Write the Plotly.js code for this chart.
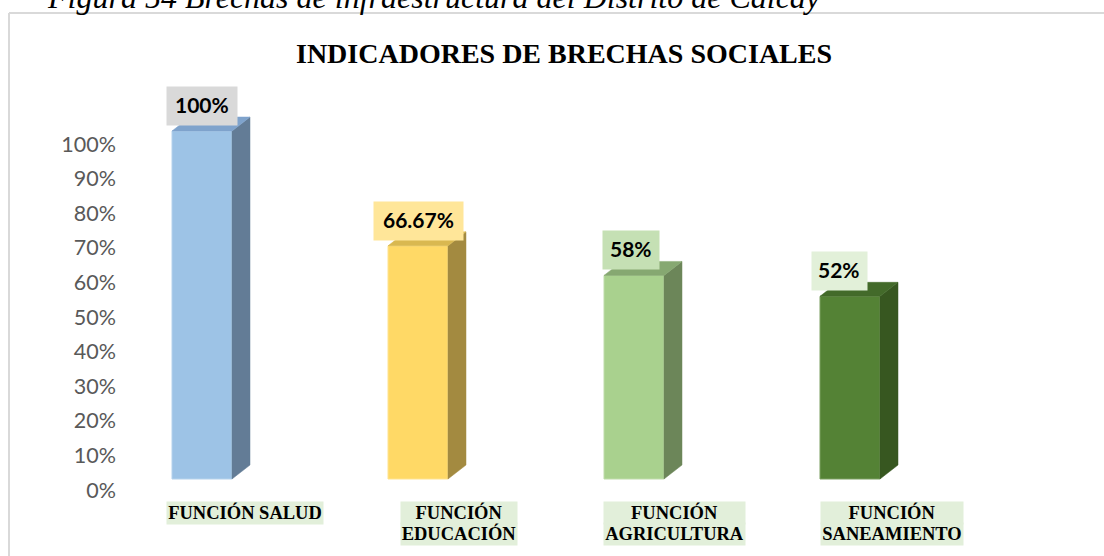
<!DOCTYPE html>
<html><head><meta charset="utf-8">
<script src="https://cdn.plot.ly/plotly-3.0.1.min.js"></script>
<style>html,body{margin:0;padding:0;background:#fff;overflow:hidden}#c{width:1104px;height:556px}</style>
</head><body><div id="c"></div>
<script>
const categories = ['FUNCIÓN SALUD','FUNCIÓN<br>EDUCACIÓN','FUNCIÓN<br>AGRICULTURA','FUNCIÓN<br>SANEAMIENTO'];
const values = [100, 66.67, 58, 52];
const barHeights = [100, 67, 58.5, 52.5];
const valueLabels = ['100%','66.67%','58%','52%'];
const tickValues = [0,10,20,30,40,50,60,70,80,90,100];
const tickLabels = tickValues.map(v => v + '%');

const frontColors = ['#9dc3e6','#ffd966','#a9d18e','#548235'];
const edgeColors  = ['#b5d2ec','#ffe38f','#bfdcaa','#7a9f60'];
const sideColors  = ['#637c96','#a38a40','#6c8659','#375720'];
const topColors   = ['#7fa3cc','#d9b850','#86a871','#436a2a'];
const labelColors = ['#d9d9d9','#ffe699','#c5e0b4','#e2f0d9'];
const labelWidths = [70,89,56,55];
const labelShift  = [0,0,-3,-11];
const catShift    = [43,41,40,42];
const catWidths   = [156,116,141,142];

const W=1104,H=556,L=120,R=1040,T=100,B=500;
const pxX=216, pxY=3.48, depthX=18/pxX, depthY=14/pxY, halfW=30/pxX;
const x0=202, y0=479, tick0=490, tickPx=3.46;
const xr=[(L-x0)/pxX,(R-x0)/pxX];
const yr=[-(B-tick0)/tickPx,(tick0-T)/tickPx];
const y2r=[-(B-y0)/pxY,(y0-T)/pxY];
const px=v=>(v-L)/(R-L), py=v=>(B-v)/(B-T);

const traces=[{
  type:'scatter',mode:'none',x:tickValues.map(()=>0),y:tickValues,yaxis:'y',hoverinfo:'skip',showlegend:false
},{
  type:'bar', x:[0,1,2,3], y:barHeights, width:2*halfW, yaxis:'y2',
  marker:{color:frontColors,line:{color:edgeColors,width:1}}, hoverinfo:'skip', showlegend:false
}];
barHeights.forEach((v,i)=>{
  const a=i+halfW,b=a+depthX,l=i-halfW;
  traces.push({type:'scatter',mode:'lines',yaxis:'y2',fill:'toself',fillcolor:sideColors[i],
    x:[a,b,b,a,a],y:[0,depthY,v+depthY,v,0],line:{width:0.5,color:sideColors[i]},hoverinfo:'skip',showlegend:false});
  traces.push({type:'scatter',mode:'lines',yaxis:'y2',fill:'toself',fillcolor:topColors[i],
    x:[l,l+depthX,b,a,l],y:[v,v+depthY,v+depthY,v,v],line:{width:0.5,color:topColors[i]},hoverinfo:'skip',showlegend:false});
});

const annotations=[{
  xref:'paper',yref:'paper',x:px(564),y:py(53),xanchor:'center',yanchor:'middle',showarrow:false,
  text:'<b>INDICADORES DE BRECHAS SOCIALES</b>',font:{family:'Liberation Serif',size:28,color:'#000'}
},{
  xref:'paper',yref:'paper',x:px(45),y:py(-3),xanchor:'left',yanchor:'middle',showarrow:false,
  text:'<i>Figura 54 Brechas de infraestructura del Distrito de Calcay</i>',font:{family:'Liberation Serif',size:32,color:'#000'}
}];
const lineH=21;
values.forEach((v,i)=>{
  annotations.push({xref:'x',yref:'y2',x:i,y:barHeights[i],xanchor:'center',yanchor:'bottom',yshift:5,xshift:labelShift[i],
    showarrow:false,text:'\u00a0',bgcolor:labelColors[i],width:labelWidths[i],height:38,borderpad:0,
    font:{family:'Lato',size:21,color:'#000'}});
  annotations.push({xref:'x',yref:'y2',x:i,y:barHeights[i],xanchor:'center',yanchor:'bottom',yshift:12,xshift:labelShift[i],
    showarrow:false,text:'<b>'+valueLabels[i]+'</b>',
    font:{family:'Lato',size:21,color:'#000'}});
  categories[i].split('<br>').forEach((line,k)=>{
    annotations.push({xref:'x',yref:'paper',x:i,y:py(500.5+k*lineH),xanchor:'center',yanchor:'top',xshift:catShift[i],
      showarrow:false,text:'<b>'+line+'</b>',bgcolor:'#e2efda',width:catWidths[i],height:lineH+0.5,borderpad:0,align:'center',
      font:{family:'Liberation Serif',size:18.5,color:'#000'}});
  });
});

const layout={
  width:W,height:H,margin:{l:L,r:W-R,t:T,b:H-B,pad:0},paper_bgcolor:'#fff',plot_bgcolor:'rgba(0,0,0,0)',showlegend:false,
  xaxis:{range:xr,showgrid:false,zeroline:false,showline:false,showticklabels:false,ticks:''},
  yaxis:{range:yr,tickmode:'array',tickvals:tickValues,ticktext:tickLabels,showgrid:false,zeroline:false,showline:false,ticks:'',
    ticklabelstandoff:3,tickfont:{family:'Lato',size:21.5,color:'#595959'}},
  yaxis2:{range:y2r,overlaying:'y',side:'left',showgrid:false,zeroline:false,showline:false,showticklabels:false,ticks:''},
  shapes:[
    {type:'line',xref:'paper',yref:'paper',layer:'below',x0:px(9),x1:px(1104),y0:py(13),y1:py(13),line:{color:'#d9d9d9',width:2}},
    {type:'line',xref:'paper',yref:'paper',layer:'below',x0:px(9),x1:px(9),y0:py(13),y1:py(556),line:{color:'#d9d9d9',width:2}}
  ],
  annotations
};
Plotly.newPlot('c',traces,layout,{displayModeBar:false,staticPlot:true});
</script></body></html>
